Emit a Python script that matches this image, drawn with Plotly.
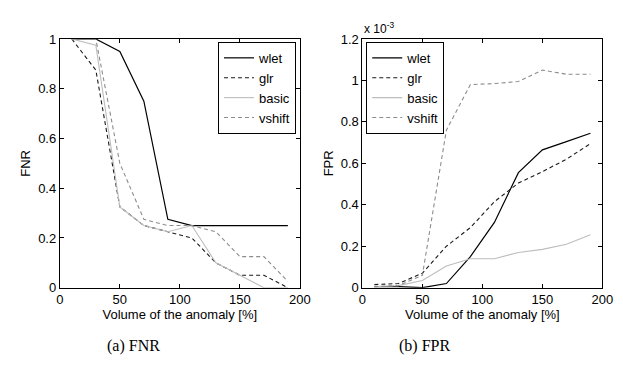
import plotly.graph_objects as go

volume = [10, 30, 50, 70, 90, 110, 130, 150, 170, 190]
series_names = ["wlet", "glr", "basic", "vshift"]

fnr_wlet = [1, 1, 0.95, 0.75, 0.275, 0.25, 0.25, 0.25, 0.25, 0.25]
fnr_glr = [1, 0.875, 0.325, 0.25, 0.225, 0.2, 0.1, 0.05, 0.05, 0.0]
fnr_basic = [1, 0.975, 0.325, 0.25, 0.225, 0.25, 0.1, 0.05, 0.0, 0.0]
fnr_vshift = [1, 1, 0.5, 0.275, 0.25, 0.25, 0.225, 0.125, 0.125, 0.025]

# FPR in units of 1e-3
fpr_wlet = [0.005, 0.005, 0.0, 0.02, 0.15, 0.315, 0.555, 0.665, 0.705, 0.745]
fpr_glr = [0.015, 0.02, 0.07, 0.2, 0.29, 0.415, 0.505, 0.56, 0.62, 0.695]
fpr_basic = [0.005, 0.01, 0.035, 0.105, 0.14, 0.14, 0.17, 0.185, 0.21, 0.255]
fpr_vshift = [0.005, 0.01, 0.06, 0.76, 0.98, 0.985, 0.995, 1.05, 1.03, 1.03]

x_ticks = [0, 50, 100, 150, 200]
fnr_ticks = [0, 0.2, 0.4, 0.6, 0.8, 1]
fpr_ticks = [0, 0.2, 0.4, 0.6, 0.8, 1, 1.2]
fnr_tick_text = ["0", "0.2", "0.4", "0.6", "0.8", "1"]
fpr_tick_text = ["0", "0.2", "0.4", "0.6", "0.8", "1", "1.2"]

styles = {
    "wlet": dict(color="#000000", width=1.2, dash="solid"),
    "glr": dict(color="#1a1a1a", width=1.1, dash="4px,3px"),
    "basic": dict(color="#bdbdbd", width=1.1, dash="solid"),
    "vshift": dict(color="#8c8c8c", width=1.1, dash="4px,3px"),
}

fig = go.Figure()
fnr_data = [fnr_wlet, fnr_glr, fnr_basic, fnr_vshift]
fpr_data = [fpr_wlet, fpr_glr, fpr_basic, fpr_vshift]
for name, ys in zip(series_names, fnr_data):
    fig.add_trace(go.Scatter(x=volume, y=ys, mode="lines", name=name, line=styles[name],
                             xaxis="x", yaxis="y", legend="legend"))
for name, ys in zip(series_names, fpr_data):
    fig.add_trace(go.Scatter(x=volume, y=ys, mode="lines", name=name, line=styles[name],
                             xaxis="x2", yaxis="y2", legend="legend2"))

W, H = 623, 377
ydom = [1 - 284 / H, 1 - 25 / H]
axis_common = dict(showline=True, linecolor="black", linewidth=1, mirror="allticks",
                   ticks="inside", ticklen=4, tickcolor="black", showgrid=False, zeroline=False,
                   tickfont=dict(family="Liberation Sans, Arial", size=13, color="black"))

fig.update_layout(
    width=W, height=H,
    margin=dict(l=0, r=0, t=0, b=0),
    paper_bgcolor="white", plot_bgcolor="white",
    font=dict(family="Liberation Sans, Arial", size=13, color="black"),
    xaxis=dict(domain=[49 / W, 295 / W], range=[0, 200], tickvals=x_ticks, anchor="y",
               title=dict(text="Volume of the anomaly [%]", standoff=0, font=dict(size=13)), **axis_common),
    yaxis=dict(domain=ydom, range=[0, 1], tickvals=fnr_ticks, ticktext=fnr_tick_text, anchor="x",
               title=dict(text="FNR", standoff=4, font=dict(size=13)), **axis_common),
    xaxis2=dict(domain=[359 / W, 605 / W], range=[0, 200], tickvals=x_ticks, anchor="y2",
                title=dict(text="Volume of the anomaly [%]", standoff=0, font=dict(size=13)), **axis_common),
    yaxis2=dict(domain=ydom, range=[0, 1.2], tickvals=fpr_ticks, ticktext=fpr_tick_text, anchor="x2",
                title=dict(text="FPR", standoff=4, font=dict(size=13)), **axis_common),
    legend=dict(x=291 / W, y=1 - 28 / H, xanchor="right", yanchor="top",
                bordercolor="black", borderwidth=1, bgcolor="white",
                font=dict(size=13), tracegroupgap=0, itemwidth=30),
    legend2=dict(x=363 / W, y=1 - 28 / H, xanchor="left", yanchor="top",
                 bordercolor="black", borderwidth=1, bgcolor="white",
                 font=dict(size=13), tracegroupgap=0, itemwidth=30),
    annotations=[
        dict(text="x 10<sup>-3</sup>", x=359 / W, y=1 - 24 / H, xref="paper", yref="paper",
             xanchor="left", yanchor="bottom", showarrow=False,
             font=dict(family="Liberation Sans, Arial", size=12, color="black")),
        dict(text="(a) FNR", x=125 / W, y=1 - 345 / H, xref="paper", yref="paper",
             xanchor="center", yanchor="middle", showarrow=False,
             font=dict(family="Liberation Serif, Times New Roman", size=16, color="black")),
        dict(text="(b) FPR", x=423 / W, y=1 - 345 / H, xref="paper", yref="paper",
             xanchor="center", yanchor="middle", showarrow=False,
             font=dict(family="Liberation Serif, Times New Roman", size=16, color="black")),
    ],
)

fig.write_html("out.html")
